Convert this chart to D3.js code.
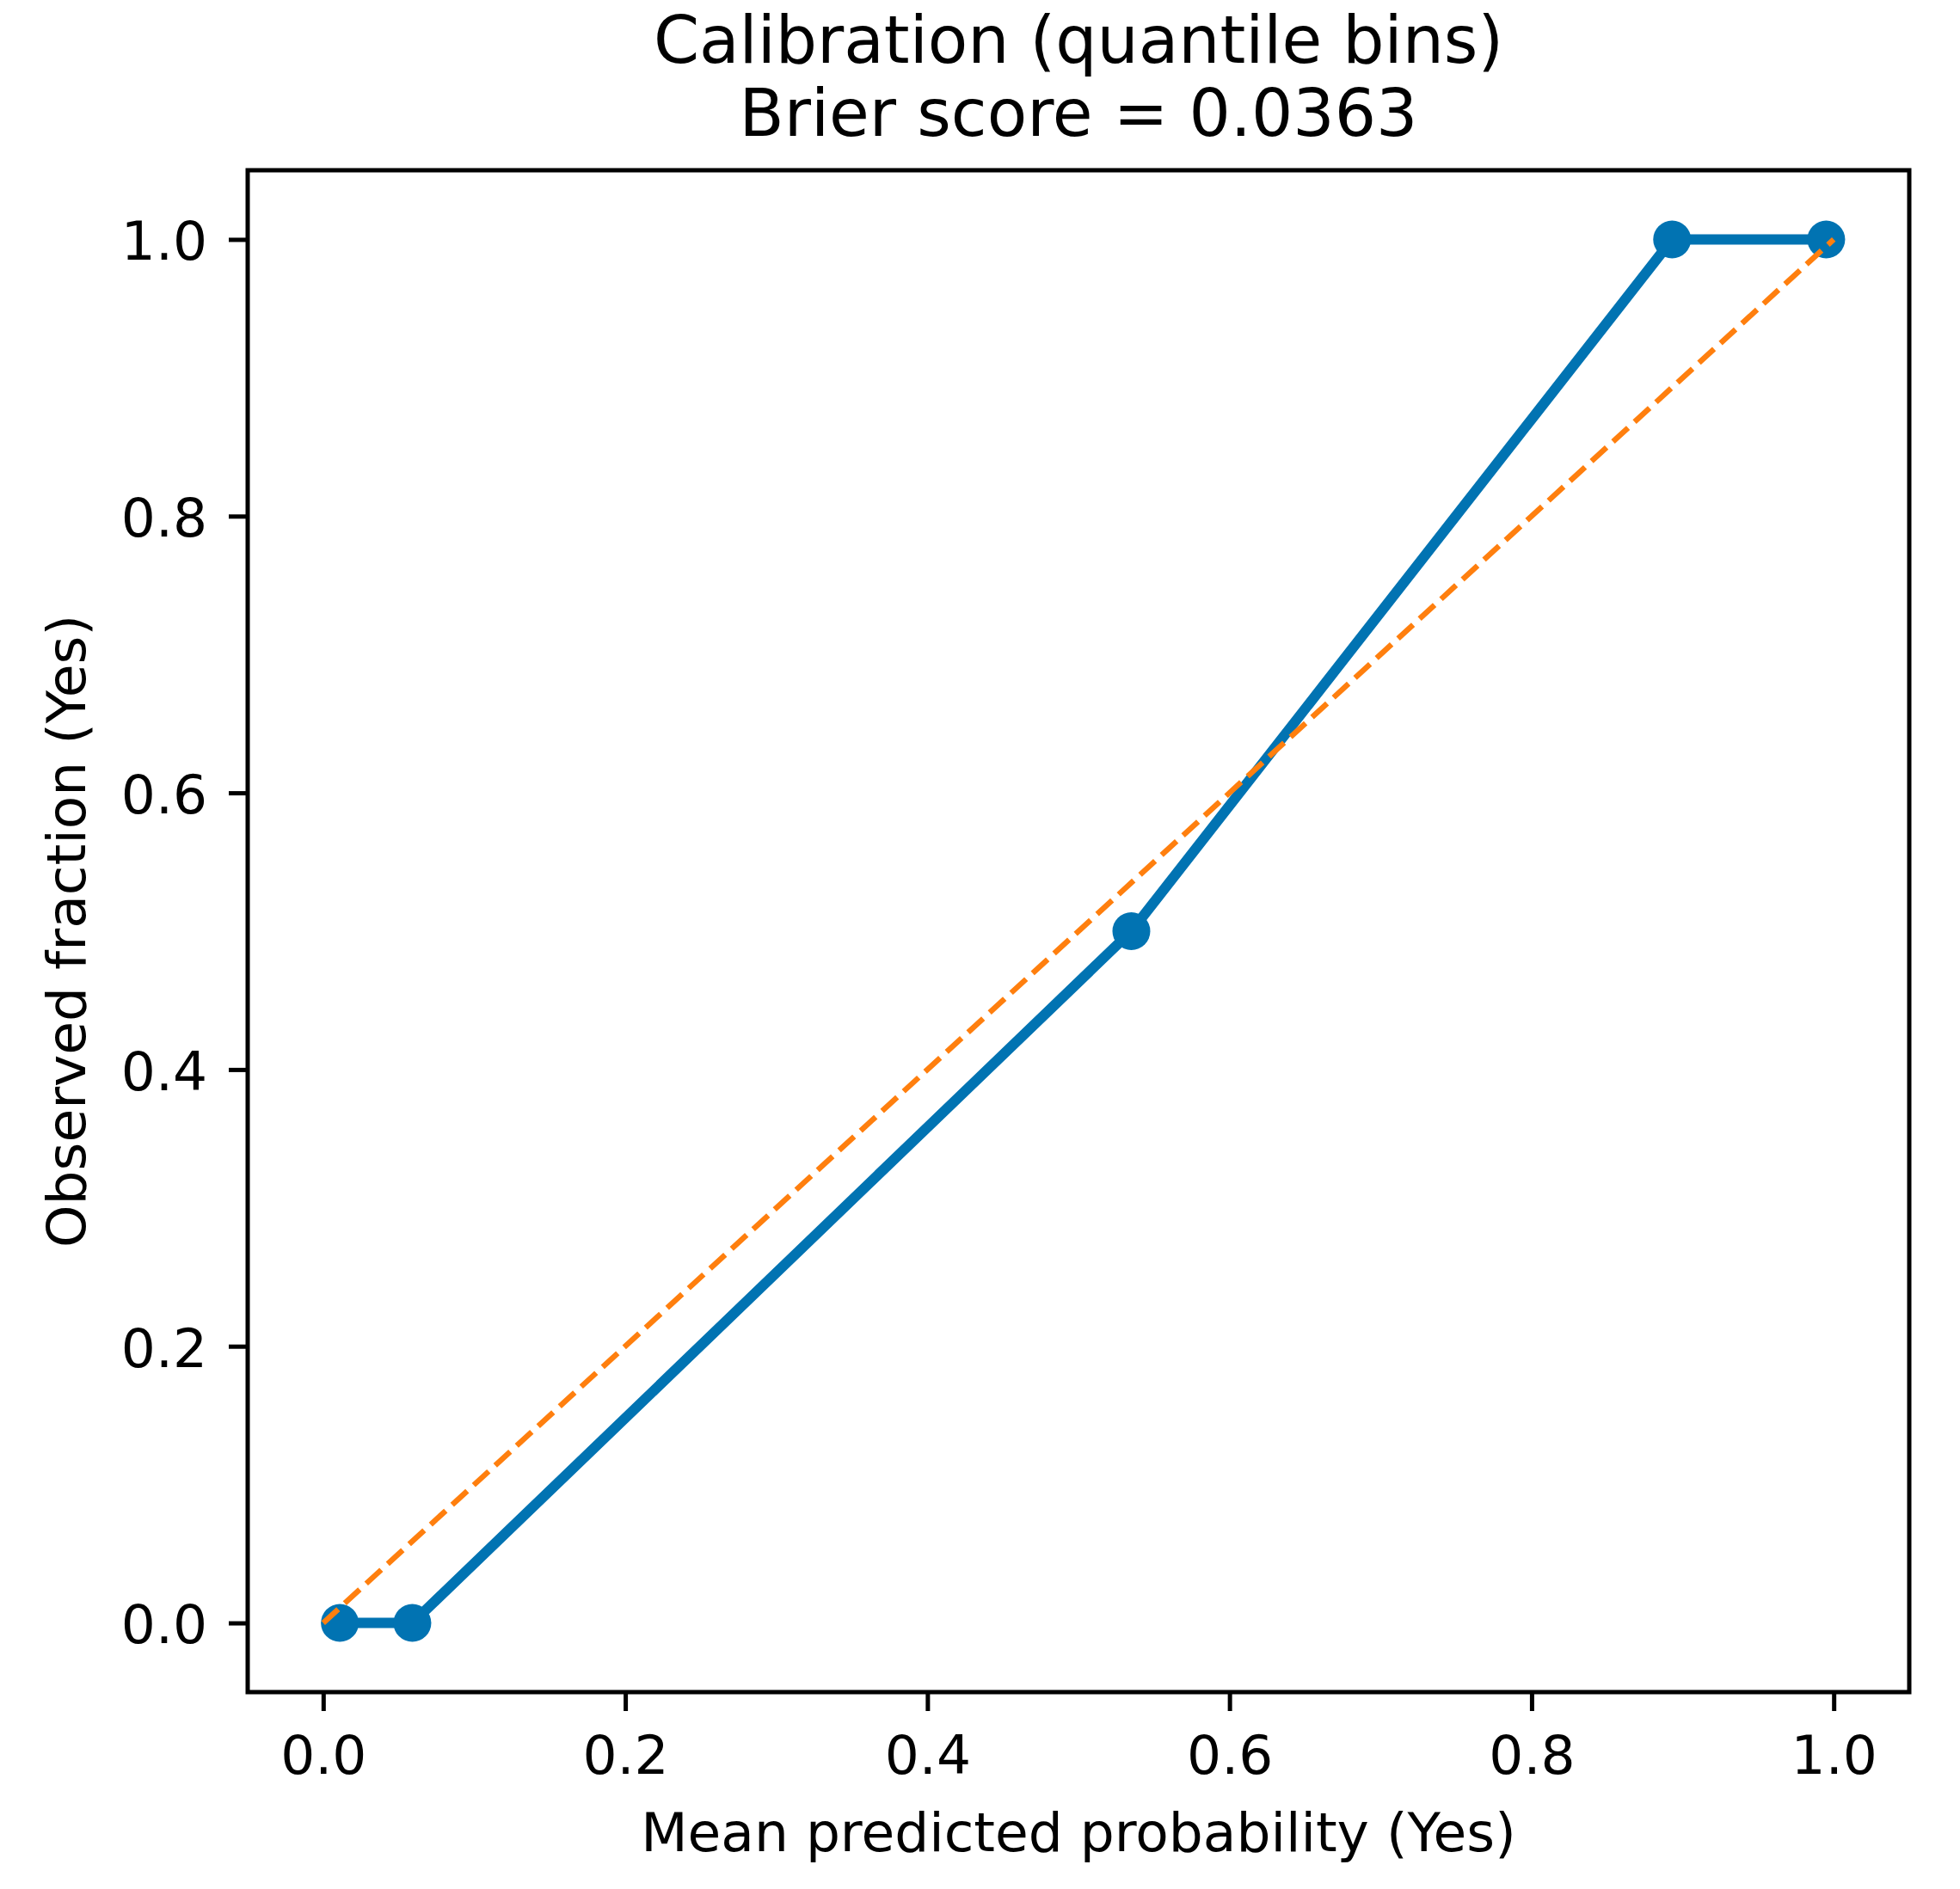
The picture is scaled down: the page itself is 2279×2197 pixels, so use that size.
<!DOCTYPE html>
<html>
<head>
<meta charset="utf-8">
<script src="https://cdn.jsdelivr.net/npm/d3@7"></script>
<style>
  body { margin: 0; background: #fff; }
  svg { display: block; font-family: "DejaVu Sans", sans-serif; }
</style>
</head>
<body>
<svg id="chart" width="2279" height="2197"></svg>
<script>
// calibration points (quantile bins)
const meanPredicted = [0.011, 0.059, 0.535, 0.893, 0.995];
const observedFraction = [0.0, 0.0, 0.5, 1.0, 1.0];
// perfect calibration reference
const diagX = [0, 1];
const diagY = [0, 1];
const tickValues = [0.0, 0.2, 0.4, 0.6, 0.8, 1.0];
const titleLines = ["Calibration (quantile bins)", "Brier score = 0.0363"];
const xLabel = "Mean predicted probability (Yes)";
const yLabel = "Observed fraction (Yes)";

const plotLeft = 288, plotRight = 2220, plotTop = 198, plotBottom = 1968;
const blue = "#0173b2";
const orange = "#ff7f0e";

const xScale = d3.scaleLinear().domain([-0.05, 1.05]).range([plotLeft, plotRight]);
const yScale = d3.scaleLinear().domain([-0.05, 1.05]).range([plotBottom, plotTop]);

const chart = d3.select("#chart");

const line = d3
  .line()
  .x((d) => xScale(d[0]))
  .y((d) => yScale(d[1]));

const points = meanPredicted.map((x, i) => [x, observedFraction[i]]);

chart
  .append("path")
  .datum(points)
  .attr("d", line)
  .attr("fill", "none")
  .attr("stroke", blue)
  .attr("stroke-width", 12)
  .attr("stroke-linejoin", "round");

chart
  .selectAll("circle.pt")
  .data(points)
  .enter()
  .append("circle")
  .attr("class", "pt")
  .attr("cx", (d) => xScale(d[0]))
  .attr("cy", (d) => yScale(d[1]))
  .attr("r", 22)
  .attr("fill", blue);

chart
  .append("path")
  .datum(diagX.map((x, i) => [x, diagY[i]]))
  .attr("d", line)
  .attr("fill", "none")
  .attr("stroke", orange)
  .attr("stroke-width", 6.4)
  .attr("stroke-dasharray", "23.7 10.2");

// frame
chart
  .append("rect")
  .attr("x", plotLeft)
  .attr("y", plotTop)
  .attr("width", plotRight - plotLeft)
  .attr("height", plotBottom - plotTop)
  .attr("fill", "none")
  .attr("stroke", "black")
  .attr("stroke-width", 5);

const fmt = d3.format(".1f");
const xAxis = d3.axisBottom(xScale).tickValues(tickValues).tickFormat(fmt).tickSize(22).tickPadding(28).tickSizeOuter(0);
const yAxis = d3.axisLeft(yScale).tickValues(tickValues).tickFormat(fmt).tickSize(22).tickPadding(25).tickSizeOuter(0);

const gx = chart.append("g").attr("transform", `translate(0, ${plotBottom})`).call(xAxis);
const gy = chart.append("g").attr("transform", `translate(${plotLeft}, 0)`).call(yAxis);

[gx, gy].forEach((g) => {
  g.select(".domain").remove();
  g.selectAll(".tick line").attr("stroke", "black").attr("stroke-width", 5);
  g.selectAll(".tick text")
    .attr("fill", "black")
    .style("font-size", "63px")
    .style("font-family", "DejaVu Sans");
});
gy.selectAll(".tick text").attr("dy", "0.37em");

chart
  .append("text")
  .attr("x", (plotLeft + plotRight) / 2)
  .attr("y", 2153)
  .attr("text-anchor", "middle")
  .style("font-size", "63px")
  .text(xLabel);

chart
  .append("text")
  .attr("transform", `translate(99, ${(plotTop + plotBottom) / 2}) rotate(-90)`)
  .attr("text-anchor", "middle")
  .style("font-size", "63px")
  .text(yLabel);

chart
  .selectAll("text.title")
  .data(titleLines)
  .enter()
  .append("text")
  .attr("class", "title")
  .attr("x", (plotLeft + plotRight) / 2)
  .attr("y", (d, i) => 73 + i * 85)
  .attr("text-anchor", "middle")
  .style("font-size", "76px")
  .text((d) => d);
</script>
</body>
</html>
